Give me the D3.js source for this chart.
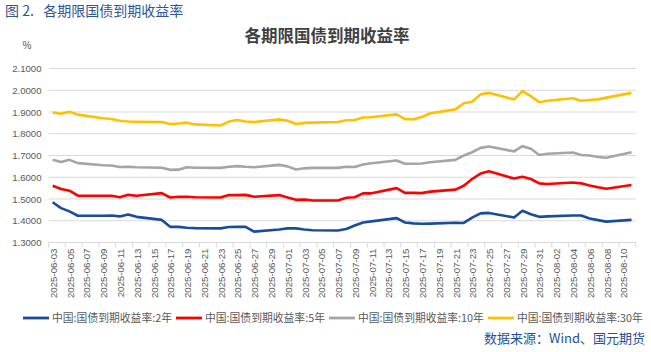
<!DOCTYPE html>
<html><head><meta charset="utf-8">
<script src="https://cdn.jsdelivr.net/npm/d3@7/dist/d3.min.js"></script>
<style>
html,body{margin:0;padding:0;background:#fff;}
svg{display:block;}
</style></head>
<body>
<svg id="chart" width="651" height="352"></svg>
<script>
// ---- data ----
const dates = [
"2025-06-03","2025-06-04","2025-06-05","2025-06-06",
"2025-06-09","2025-06-10","2025-06-11","2025-06-12","2025-06-13",
"2025-06-16","2025-06-17","2025-06-18","2025-06-19","2025-06-20",
"2025-06-23","2025-06-24","2025-06-25","2025-06-26","2025-06-27",
"2025-06-30","2025-07-01","2025-07-02","2025-07-03","2025-07-04",
"2025-07-07","2025-07-08","2025-07-09","2025-07-10","2025-07-11",
"2025-07-14","2025-07-15","2025-07-16","2025-07-17","2025-07-18",
"2025-07-21","2025-07-22","2025-07-23","2025-07-24","2025-07-25",
"2025-07-28","2025-07-29","2025-07-30","2025-07-31","2025-08-01",
"2025-08-04","2025-08-05","2025-08-06","2025-08-07","2025-08-08",
"2025-08-11"];
const y2 = [1.485,1.458,1.443,1.423,
1.423,1.424,1.420,1.429,1.418,
1.404,1.372,1.372,1.368,1.366,
1.365,1.371,1.372,1.372,1.350,
1.360,1.365,1.365,1.360,1.356,
1.355,1.362,1.378,1.392,1.397,
1.412,1.392,1.388,1.386,1.387,
1.391,1.390,1.414,1.434,1.436,
1.415,1.446,1.430,1.418,1.420,
1.424,1.424,1.410,1.403,1.396,
1.404];
const y5 = [1.561,1.546,1.538,1.515,
1.515,1.515,1.508,1.519,1.515,
1.527,1.507,1.510,1.510,1.508,
1.507,1.518,1.518,1.519,1.510,
1.518,1.507,1.496,1.497,1.493,
1.493,1.506,1.508,1.526,1.526,
1.550,1.528,1.528,1.527,1.534,
1.543,1.561,1.592,1.617,1.628,
1.594,1.602,1.592,1.572,1.569,
1.576,1.572,1.562,1.554,1.547,
1.564];
const y10 = [1.680,1.670,1.680,1.665,
1.655,1.654,1.647,1.648,1.646,
1.644,1.634,1.635,1.646,1.644,
1.643,1.648,1.651,1.648,1.646,
1.657,1.650,1.636,1.641,1.643,
1.643,1.648,1.647,1.659,1.664,
1.677,1.662,1.662,1.663,1.669,
1.680,1.700,1.715,1.735,1.741,
1.719,1.743,1.731,1.702,1.708,
1.714,1.702,1.700,1.693,1.690,
1.715];
const y30 = [1.898,1.892,1.901,1.888,
1.871,1.868,1.860,1.856,1.855,
1.854,1.845,1.847,1.851,1.843,
1.838,1.856,1.863,1.856,1.854,
1.866,1.860,1.845,1.850,1.851,
1.854,1.862,1.863,1.875,1.876,
1.889,1.867,1.867,1.877,1.894,
1.912,1.940,1.947,1.981,1.988,
1.958,1.996,1.973,1.945,1.952,
1.963,1.952,1.955,1.958,1.966,
1.988];
const seriesNames = ["中国:国债到期收益率:2年","中国:国债到期收益率:5年","中国:国债到期收益率:10年","中国:国债到期收益率:30年"];
const seriesColors = ["#1a4c9e","#ff0000","#a5a5a5","#ffc000"];
const yTicks = [1.3,1.4,1.5,1.6,1.7,1.8,1.9,2.0,2.1];
const axisStart = "2025-06-03", axisEnd = "2025-08-12";
const chartTitle = "各期限国债到期收益率";
const figLabel = "图 2.\u00A0\u00A0\u00A0各期限国债到期收益率";
const sourceText = "数据来源：Wind、国元期货";

// ---- drawing ----
const svg = d3.select("#chart");
const parse = d3.utcParse("%Y-%m-%d");
const DAY = 864e5;
const x = d3.scaleUtc().domain([parse(axisStart), parse(axisEnd)]).range([48.5, 635.7]);
const y = d3.scaleLinear().domain([1.3, 2.1]).range([242.5, 68.5]);
const L = x.range()[0], R = x.range()[1];

svg.append("text").attr("x",5).attr("y",16).text(figLabel)
  .attr("font-family","'Noto Sans CJK SC',sans-serif").attr("font-size",14)
  .attr("fill","#2e5597");

svg.append("text").attr("x",327).attr("y",42).attr("text-anchor","middle").text(chartTitle)
  .attr("font-family","'Noto Sans CJK SC',sans-serif").attr("font-size",16.5).attr("font-weight","bold")
  .attr("fill","#404040");

svg.append("text").attr("x",27).attr("y",49).attr("text-anchor","middle").text("%")
  .attr("font-family","'Liberation Sans',Arial,sans-serif").attr("font-size",10).attr("fill","#595959");

// grid
const g = svg.append("g");
g.selectAll("line.grid").data(yTicks.filter(t=>t>1.3)).join("line")
  .attr("x1",L).attr("x2",R).attr("y1",d=>y(d)).attr("y2",d=>y(d))
  .attr("stroke","#d9d9d9").attr("stroke-width",1);

// y axis labels
const yAxis = d3.axisLeft(y).tickValues(yTicks).tickFormat(d3.format(".4f")).tickSize(0).tickPadding(7);
const ya = svg.append("g").attr("transform",`translate(${L},0)`).call(yAxis);
ya.select(".domain").remove();
ya.selectAll("text").attr("font-family","'Liberation Sans',Arial,sans-serif").attr("font-size",9.6).attr("fill","#595959");

// x axis
const tickDates = d3.utcDay.range(parse(axisStart), new Date(parse(axisEnd).getTime()+1), 2);
const xa = svg.append("g").attr("transform",`translate(0,${y(1.3)})`);
xa.append("line").attr("x1",L).attr("x2",R).attr("stroke","#d9d9d9");
xa.selectAll("line.tk").data(tickDates).join("line").attr("class","tk")
  .attr("x1",d=>x(d)).attr("x2",d=>x(d)).attr("y1",0).attr("y2",5).attr("stroke","#d9d9d9");
const fmt = d3.utcFormat("%Y-%m-%d");
xa.selectAll("text").data(tickDates.slice(0,-1)).join("text")
  .attr("transform",d=>`translate(${x(new Date(d.getTime()+DAY/2))+0.8},6) rotate(-90)`)
  .attr("text-anchor","end").attr("dy","0.35em")
  .attr("font-family","'Liberation Sans',Arial,sans-serif").attr("font-size",9.7).attr("fill","#595959")
  .text(d=>fmt(d));

// lines
const allSeries = [y2,y5,y10,y30];
const line = d3.line().x(d=>x(new Date(parse(d.date).getTime()+DAY/2))).y(d=>y(d.v));
allSeries.forEach((vals,i)=>{
  const pts = dates.map((dt,j)=>({date:dt,v:vals[j]}));
  svg.append("path").datum(pts).attr("d",line).attr("fill","none")
    .attr("stroke",seriesColors[i]).attr("stroke-width",2.6).attr("stroke-linejoin","round");
});

// legend
const lg = svg.append("g").attr("transform","translate(0,318)");
let lx = 23;
seriesNames.forEach((n,i)=>{
  lg.append("line").attr("x1",lx).attr("x2",lx+26).attr("y1",0).attr("y2",0)
    .attr("stroke",seriesColors[i]).attr("stroke-width",2.8);
  const t = lg.append("text").attr("x",lx+29).attr("y",0).attr("dy","0.35em").text(n)
    .attr("font-family","'Noto Sans CJK SC',sans-serif").attr("font-size",10.8).attr("fill","#595959");
  lx = lx + 29 + t.node().getComputedTextLength() + 4;
});

svg.append("text").attr("x",645).attr("y",343).attr("text-anchor","end")
  .attr("font-family","'Noto Sans CJK SC',sans-serif").attr("font-size",13).attr("fill","#1f4e9a")
  .text(sourceText);
</script>
</body></html>
